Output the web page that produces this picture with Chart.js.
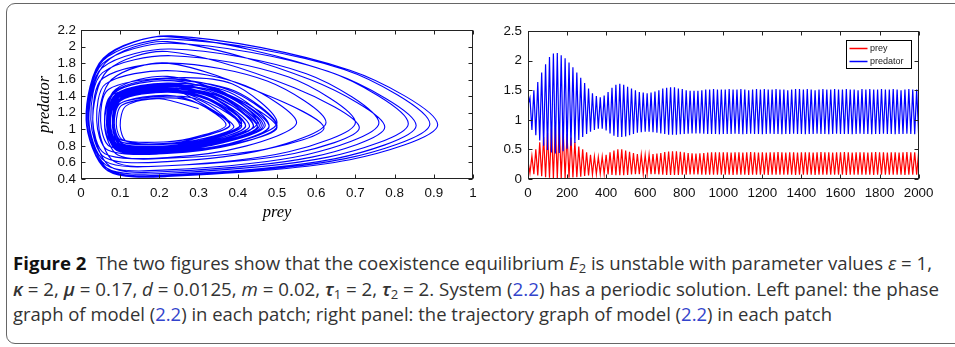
<!DOCTYPE html>
<html>
<head>
<meta charset="utf-8">
<script src="https://cdn.jsdelivr.net/npm/chart.js@4.4.0/dist/chart.umd.min.js"></script>
<style>
  body { margin: 0; width: 955px; height: 347px; overflow: hidden; position: relative; background: #fff; font-family: "Open Sans", sans-serif; }
  #frame { position: absolute; left: 6px; top: 3px; width: 975px; height: 341px; border: 1.5px solid #666; border-radius: 9px; box-sizing: border-box; }
  .pane { position: absolute; }
  #phaseBox { left: 36px; top: 17px; width: 450px; height: 204px; }
  #timeBox { left: 480px; top: 17px; width: 460px; height: 190px; }
  .cap { position: absolute; left: 12.5px; white-space: nowrap; font-size: 17.5px; line-height: 1; color: #333; transform-origin: 0 0; }
  .cap b { color: #111; font-weight: 700; }
  .cap .g { font-weight: 600; }
  .cap sub { font-size: 70%; vertical-align: baseline; position: relative; top: 0.3em; }
  .cap .ln { color: #3344cc; }
</style>
</head>
<body>
<div id="frame"></div>
<div class="pane" id="phaseBox"><canvas id="phase"></canvas></div>
<div class="pane" id="timeBox"><canvas id="series"></canvas></div>

<div class="cap" style="top:254.5px" data-w="919"><b>Figure 2</b>&nbsp;&nbsp;The two figures show that the coexistence equilibrium <i>E</i><sub>2</sub> is unstable with parameter values <i>ε</i> = 1,</div>
<div class="cap" style="top:280.5px" data-w="926"><i class="g">κ</i> = 2, <i class="g">μ</i> = 0.17, <i>d</i> = 0.0125, <i>m</i> = 0.02, <i class="g">τ</i><sub>1</sub> = 2, <i class="g">τ</i><sub>2</sub> = 2. System (<span class="ln">2.2</span>) has a periodic solution. Left panel: the phase</div>
<div class="cap" style="top:305.8px" data-w="819">graph of model (<span class="ln">2.2</span>) in each patch; right panel: the trajectory graph of model (<span class="ln">2.2</span>) in each patch</div>

<script>
// ---- left panel: phase trajectory (prey, predator), one loop per line ----
const phasePrey = [0.30,
  0.20,0.115,0.10,0.117,0.22,0.318,0.39,0.318,
  0.22,0.101,0.08,0.105,0.22,0.395,0.50,0.395,
  0.22,0.088,0.06,0.094,0.22,0.48,0.62,0.48,
  0.22,0.078,0.045,0.085,0.22,0.544,0.71,0.544,
  0.22,0.067,0.03,0.075,0.22,0.589,0.775,0.589,
  0.22,0.062,0.02,0.07,0.22,0.646,0.855,0.646,
  0.22,0.059,0.014,0.068,0.22,0.686,0.91,0.686,
  0.23,0.057,0.013,0.066,0.22,0.671,0.89,0.671,
  0.23,0.056,0.015,0.064,0.22,0.63,0.835,0.63,
  0.23,0.055,0.018,0.063,0.22,0.575,0.76,0.575,
  0.23,0.054,0.02,0.061,0.22,0.53,0.70,0.53,
  0.23,0.055,0.025,0.061,0.22,0.475,0.625,0.475,
  0.23,0.056,0.03,0.061,0.22,0.42,0.55,0.42,
  0.22,0.063,0.04,0.068,0.22,0.385,0.50,0.385,
  0.22,0.07,0.05,0.074,0.22,0.35,0.45,0.35,
  0.22,0.078,0.06,0.081,0.22,0.323,0.41,0.323,
  0.22,0.09,0.075,0.093,0.22,0.304,0.38,0.304,
  0.22,0.099,0.085,0.102,0.22,0.299,0.37,0.299,
  0.22,0.105,0.09,0.107,0.22,0.308,0.38,0.308,
  0.22,0.101,0.085,0.105,0.22,0.329,0.41,0.329,
  0.22,0.094,0.075,0.098,0.22,0.356,0.45,0.356,
  0.22,0.089,0.068,0.093,0.22,0.377,0.48,0.377,
  0.22,0.087,0.065,0.091,0.22,0.391,0.50,0.391,
  0.22,0.087,0.065,0.091,0.22,0.391,0.50,0.391,
  0.22,0.087,0.066,0.091,0.22,0.377,0.48,0.377,
  0.22,0.09,0.07,0.093,0.22,0.363,0.46,0.363,
  0.22,0.093,0.075,0.097,0.22,0.349,0.44,0.349,
  0.22,0.097,0.08,0.10,0.22,0.335,0.42,0.335,
  0.22,0.098,0.082,0.102,0.22,0.328,0.41,0.328,
  0.22,0.101,0.085,0.104,0.22,0.325,0.405,0.325,
  0.22,0.101,0.085,0.105,0.22,0.329,0.41,0.329,
  0.22,0.099,0.082,0.102,0.22,0.336,0.42,0.336,
  0.22,0.098,0.08,0.101,0.22,0.343,0.43,0.343,
  0.22,0.093,0.075,0.097,0.22,0.349,0.44,0.349,
  0.22,0.091,0.072,0.095,0.22,0.359,0.455,0.359,
  0.22,0.09,0.07,0.094,0.22,0.366,0.465,0.366,
  0.22,0.088,0.068,0.092,0.22,0.37,0.47,0.37,
  0.22,0.091,0.072,0.095,0.22,0.356,0.45,0.356,
  0.22,0.092,0.074,0.096,0.22,0.349,0.44,0.349,
  0.22,0.093,0.075,0.096,0.22,0.341,0.43,0.341,
  0.22,0.091,0.072,0.095,0.22,0.359,0.455,0.359,
  0.22];
const phasePred = [1.25,
  1.37,1.284,1.046,0.852,0.83,0.895,1.03,1.284,
  1.50,1.378,1.044,0.77,0.74,0.831,1.021,1.378,
  1.64,1.482,1.046,0.69,0.65,0.769,1.016,1.402,
  1.80,1.602,1.056,0.61,0.56,0.709,1.019,1.502,
  1.94,1.708,1.07,0.548,0.49,0.664,1.027,1.592,
  2.06,1.802,1.094,0.514,0.45,0.643,1.046,1.674,
  2.12,1.85,1.106,0.498,0.43,0.633,1.055,1.714,
  2.13,1.86,1.116,0.508,0.44,0.643,1.065,1.724,
  2.09,1.831,1.118,0.535,0.47,0.664,1.069,1.701,
  2.04,1.795,1.122,0.571,0.51,0.694,1.076,1.673,
  1.97,1.744,1.124,0.616,0.56,0.729,1.082,1.632,
  1.89,1.685,1.122,0.661,0.61,0.764,1.084,1.583,
  1.80,1.618,1.116,0.706,0.66,0.797,1.082,1.526,
  1.71,1.55,1.11,0.75,0.71,0.83,1.08,1.55,
  1.62,1.482,1.104,0.794,0.76,0.863,1.078,1.482,
  1.53,1.413,1.092,0.829,0.80,0.888,1.07,1.413,
  1.45,1.351,1.078,0.855,0.83,0.904,1.059,1.351,
  1.40,1.312,1.07,0.872,0.85,0.916,1.054,1.312,
  1.38,1.295,1.062,0.871,0.85,0.914,1.046,1.295,
  1.41,1.316,1.056,0.844,0.82,0.891,1.038,1.316,
  1.47,1.358,1.05,0.798,0.77,0.854,1.029,1.358,
  1.54,1.41,1.054,0.762,0.73,0.827,1.03,1.41,
  1.59,1.449,1.062,0.745,0.71,0.816,1.036,1.449,
  1.61,1.466,1.07,0.746,0.71,0.818,1.043,1.466,
  1.59,1.451,1.068,0.755,0.72,0.824,1.042,1.451,
  1.56,1.429,1.068,0.773,0.74,0.838,1.043,1.429,
  1.53,1.407,1.068,0.791,0.76,0.852,1.045,1.407,
  1.50,1.385,1.068,0.809,0.78,0.866,1.046,1.385,
  1.47,1.361,1.062,0.817,0.79,0.872,1.042,1.361,
  1.46,1.354,1.064,0.826,0.80,0.879,1.044,1.354,
  1.45,1.346,1.06,0.826,0.80,0.878,1.041,1.346,
  1.46,1.353,1.058,0.817,0.79,0.87,1.038,1.353,
  1.48,1.368,1.06,0.808,0.78,0.864,1.039,1.368,
  1.50,1.383,1.062,0.799,0.77,0.858,1.04,1.383,
  1.53,1.407,1.068,0.791,0.76,0.852,1.045,1.407,
  1.54,1.414,1.066,0.782,0.75,0.845,1.042,1.414,
  1.55,1.422,1.07,0.782,0.75,0.846,1.046,1.422,
  1.51,1.39,1.06,0.79,0.76,0.85,1.038,1.39,
  1.50,1.382,1.059,0.794,0.765,0.853,1.037,1.382,
  1.49,1.375,1.058,0.799,0.77,0.856,1.036,1.375,
  1.52,1.398,1.063,0.788,0.758,0.849,1.04,1.398,
  1.51];

// ---- right panel: time series, one peak and one trough per cycle ----
const times = [
  0,10,20,30,40,50,60,70,80,90,100,110,120,130,140,150,160,170,180,190,
  200,210,220,230,240,250,260,270,280,290,300,310,320,330,340,350,360,370,380,390,
  400,410,420,430,440,450,460,470,480,490,500,510,520,530,540,550,560,570,580,590,
  600,610,620,630,640,650,660,670,680,690,700,710,720,730,740,750,760,770,780,790,
  800,810,820,830,840,850,860,870,880,890,900,910,920,930,940,950,960,970,980,990,
  1000,1010,1020,1030,1040,1050,1060,1070,1080,1090,1100,1110,1120,1130,1140,1150,1160,1170,1180,1190,
  1200,1210,1220,1230,1240,1250,1260,1270,1280,1290,1300,1310,1320,1330,1340,1350,1360,1370,1380,1390,
  1400,1410,1420,1430,1440,1450,1460,1470,1480,1490,1500,1510,1520,1530,1540,1550,1560,1570,1580,1590,
  1600,1610,1620,1630,1640,1650,1660,1670,1680,1690,1700,1710,1720,1730,1740,1750,1760,1770,1780,1790,
  1800,1810,1820,1830,1840,1850,1860,1870,1880,1890,1900,1910,1920,1930,1940,1950,1960,1970,1980,1990,
  2000];
const preyStart = 0.30, predStart = 1.25;
const predPeaks = [
  1.37,1.50,1.64,1.80,1.94,2.06,2.12,2.13,2.09,2.04,
  1.97,1.89,1.80,1.71,1.62,1.53,1.45,1.40,1.38,1.41,
  1.47,1.54,1.59,1.61,1.59,1.56,1.53,1.50,1.47,1.46,
  1.45,1.46,1.48,1.50,1.53,1.54,1.55,1.55,1.53,1.52,
  1.50,1.49,1.49,1.49,1.50,1.51,1.51,1.52,1.51,1.51,
  1.51,1.52,1.51,1.51,1.52,1.51,1.50,1.51,1.52,1.51,
  1.52,1.51,1.51,1.52,1.51,1.51,1.50,1.51,1.52,1.52,
  1.51,1.52,1.51,1.50,1.51,1.52,1.51,1.51,1.52,1.51,
  1.51,1.52,1.51,1.51,1.50,1.52,1.51,1.52,1.51,1.51,
  1.52,1.51,1.51,1.52,1.51,1.50,1.51,1.52,1.51,1.51];
const predTroughs = [
  0.83,0.74,0.65,0.56,0.49,0.45,0.43,0.44,0.47,0.51,
  0.56,0.61,0.66,0.71,0.76,0.80,0.83,0.85,0.85,0.82,
  0.77,0.73,0.71,0.71,0.72,0.74,0.76,0.78,0.79,0.80,
  0.80,0.79,0.78,0.77,0.76,0.75,0.75,0.75,0.755,0.76,
  0.765,0.77,0.77,0.77,0.765,0.76,0.76,0.76,0.758,0.76,
  0.76,0.76,0.765,0.76,0.755,0.76,0.765,0.76,0.76,0.755,
  0.76,0.765,0.76,0.76,0.755,0.76,0.76,0.765,0.76,0.76,
  0.755,0.76,0.76,0.765,0.76,0.76,0.755,0.76,0.765,0.76,
  0.76,0.76,0.755,0.76,0.765,0.76,0.76,0.755,0.76,0.76,
  0.765,0.76,0.76,0.755,0.76,0.76,0.765,0.76,0.755,0.76];
const preyPeaks = [
  0.39,0.50,0.62,0.71,0.775,0.855,0.91,0.89,0.835,0.76,
  0.70,0.625,0.55,0.50,0.45,0.41,0.38,0.37,0.38,0.41,
  0.45,0.48,0.50,0.50,0.48,0.46,0.44,0.42,0.41,0.405,
  0.41,0.42,0.43,0.44,0.455,0.465,0.47,0.47,0.46,0.45,
  0.44,0.435,0.43,0.435,0.44,0.445,0.45,0.45,0.45,0.45,
  0.45,0.445,0.45,0.45,0.445,0.45,0.455,0.45,0.445,0.45,
  0.445,0.45,0.45,0.455,0.45,0.445,0.45,0.45,0.445,0.45,
  0.45,0.45,0.445,0.45,0.455,0.45,0.45,0.445,0.45,0.45,
  0.455,0.45,0.445,0.45,0.45,0.45,0.445,0.45,0.455,0.45,
  0.45,0.445,0.45,0.45,0.445,0.45,0.455,0.45,0.45,0.445];
const preyTroughs = [
  0.10,0.08,0.06,0.045,0.03,0.02,0.014,0.013,0.015,0.018,
  0.02,0.025,0.03,0.04,0.05,0.06,0.075,0.085,0.09,0.085,
  0.075,0.068,0.065,0.065,0.066,0.07,0.075,0.08,0.082,0.085,
  0.085,0.082,0.08,0.075,0.072,0.07,0.068,0.068,0.07,0.072,
  0.074,0.075,0.075,0.075,0.074,0.073,0.072,0.072,0.072,0.072,
  0.072,0.072,0.07,0.072,0.074,0.072,0.07,0.072,0.072,0.071,
  0.072,0.07,0.072,0.072,0.071,0.072,0.074,0.072,0.07,0.072,
  0.071,0.072,0.072,0.07,0.072,0.074,0.072,0.071,0.072,0.072,
  0.072,0.07,0.072,0.074,0.072,0.072,0.071,0.072,0.07,0.072,
  0.072,0.072,0.071,0.072,0.074,0.072,0.07,0.072,0.072,0.071];

// tick values
const phaseXTicks = [0,0.1,0.2,0.3,0.4,0.5,0.6,0.7,0.8,0.9,1];
const phaseYTicks = [0.4,0.6,0.8,1,1.2,1.4,1.6,1.8,2,2.2];
const timeXTicks = [0,200,400,600,800,1000,1200,1400,1600,1800,2000];
const timeYTicks = [0,0.5,1,1.5,2,2.5];

// build the series
const phasePoints = phasePrey.map((x, i) => ({ x: x, y: phasePred[i] }));
const preySeries = [{ x: times[0], y: preyStart }];
const predSeries = [{ x: times[0], y: predStart }];
predPeaks.forEach((p, k) => {
  predSeries.push({ x: times[2 * k + 1], y: p }, { x: times[2 * k + 2], y: predTroughs[k] });
  preySeries.push({ x: times[2 * k + 1], y: preyTroughs[k] }, { x: times[2 * k + 2], y: preyPeaks[k] });
});

Chart.defaults.font.family = '"Liberation Sans", Arial, sans-serif';
Chart.defaults.font.size = 13.4;
Chart.defaults.color = '#111';

// matlab style box with ticks pointing inwards
const boxAxes = {
  id: 'boxAxes',
  afterDatasetsDraw(chart) {
    const { ctx, chartArea: a, scales: { x, y } } = chart;
    const L = Math.round(a.left) + 0.5, R = Math.round(a.right) - 0.5;
    const T = Math.round(a.top) + 0.5, B = Math.round(a.bottom) - 0.5;
    ctx.save();
    ctx.strokeStyle = '#222';
    ctx.lineWidth = 1;
    ctx.beginPath();
    x.ticks.forEach(t => {
      const px = Math.round(x.getPixelForValue(t.value)) + 0.5;
      ctx.moveTo(px, B); ctx.lineTo(px, B - 4);
      ctx.moveTo(px, T); ctx.lineTo(px, T + 4);
    });
    y.ticks.forEach(t => {
      const py = Math.round(y.getPixelForValue(t.value)) + 0.5;
      ctx.moveTo(L, py); ctx.lineTo(L + 4, py);
      ctx.moveTo(R, py); ctx.lineTo(R - 4, py);
    });
    ctx.stroke();
    ctx.strokeRect(L, T, R - L, B - T);
    ctx.restore();
  }
};

// boxed legend in the upper right corner of the plot
const boxLegend = {
  id: 'boxLegend',
  afterDraw(chart) {
    const { ctx, chartArea: a } = chart;
    const w = 65, h = 28;
    const x0 = Math.round(a.right - 8 - w) + 0.5, y0 = Math.round(a.top + 9) + 0.5;
    ctx.save();
    ctx.fillStyle = '#fff';
    ctx.fillRect(x0, y0, w, h);
    ctx.strokeStyle = '#000';
    ctx.lineWidth = 1;
    ctx.strokeRect(x0, y0, w, h);
    ctx.font = '9px "Liberation Sans", Arial, sans-serif';
    ctx.textBaseline = 'middle';
    chart.data.datasets.forEach((ds, i) => {
      const ly = y0 + 8 + i * 13;
      ctx.strokeStyle = ds.borderColor;
      ctx.lineWidth = 1.5;
      ctx.beginPath();
      ctx.moveTo(x0 + 3, ly); ctx.lineTo(x0 + 21, ly);
      ctx.stroke();
      ctx.fillStyle = '#222';
      ctx.fillText(ds.label, x0 + 23.5, ly);
    });
    ctx.restore();
  }
};

const titleFont = { family: '"Liberation Serif", "Times New Roman", serif', style: 'italic', size: 16.5, lineHeight: 1 };
const fmt = v => String(v);

new Chart(document.getElementById('phase'), {
  type: 'scatter',
  data: {
    datasets: [{
      data: phasePoints,
      showLine: true,
      borderColor: '#0000ff',
      borderWidth: 1.1,
      pointRadius: 0,
      tension: 0.3
    }]
  },
  options: {
    responsive: true,
    maintainAspectRatio: false,
    devicePixelRatio: 1,
    animation: false,
    layout: { padding: { top: 10, right: 13, left: 0, bottom: 0 } },
    plugins: { legend: { display: false }, tooltip: { enabled: false } },
    scales: {
      x: {
        type: 'linear', min: 0, max: 1,
        afterBuildTicks: s => { s.ticks = phaseXTicks.map(v => ({ value: v })); },
        afterFit: s => { s.height = 42; },
        ticks: { callback: fmt, padding: 6.5, maxRotation: 0, autoSkip: false },
        grid: { display: false, drawTicks: false },
        border: { display: false },
        title: { display: true, text: 'prey', font: titleFont, color: '#000', padding: 0 }
      },
      y: {
        type: 'linear', min: 0.4, max: 2.2,
        afterBuildTicks: s => { s.ticks = phaseYTicks.map(v => ({ value: v })); },
        afterFit: s => { s.width = 45; },
        ticks: { callback: fmt, padding: 5, autoSkip: false },
        grid: { display: false, drawTicks: false },
        border: { display: false },
        title: { display: true, text: 'predator', font: titleFont, color: '#000', padding: 0 }
      }
    }
  },
  plugins: [boxAxes]
});

new Chart(document.getElementById('series'), {
  type: 'line',
  data: {
    datasets: [
      { label: 'prey', data: preySeries, borderColor: '#ff0000', borderWidth: 1.2, pointRadius: 0, tension: 0, order: 1 },
      { label: 'predator', data: predSeries, borderColor: '#0000ff', borderWidth: 1.2, pointRadius: 0, tension: 0, order: 0 }
    ]
  },
  options: {
    responsive: true,
    maintainAspectRatio: false,
    devicePixelRatio: 1,
    animation: false,
    layout: { padding: { top: 10, right: 21, left: 0, bottom: 0 } },
    plugins: { legend: { display: false }, tooltip: { enabled: false } },
    scales: {
      x: {
        type: 'linear', min: 0, max: 2000,
        afterBuildTicks: s => { s.ticks = timeXTicks.map(v => ({ value: v })); },
        afterFit: s => { s.height = 28; },
        ticks: { callback: fmt, padding: 6.5, maxRotation: 0, autoSkip: false },
        grid: { display: false, drawTicks: false },
        border: { display: false }
      },
      y: {
        type: 'linear', min: 0, max: 2.5,
        afterBuildTicks: s => { s.ticks = timeYTicks.map(v => ({ value: v })); },
        afterFit: s => { s.width = 48; },
        ticks: { callback: fmt, padding: 6, autoSkip: false },
        grid: { display: false, drawTicks: false },
        border: { display: false }
      }
    }
  },
  plugins: [boxAxes, boxLegend]
});

// fit each caption line to the width it has in the figure
document.fonts.ready.then(() => {
  document.querySelectorAll('.cap').forEach(el => {
    const w = el.getBoundingClientRect().width;
    el.style.transform = 'scaleX(' + (parseFloat(el.dataset.w) / w) + ')';
  });
});
</script>
</body>
</html>
